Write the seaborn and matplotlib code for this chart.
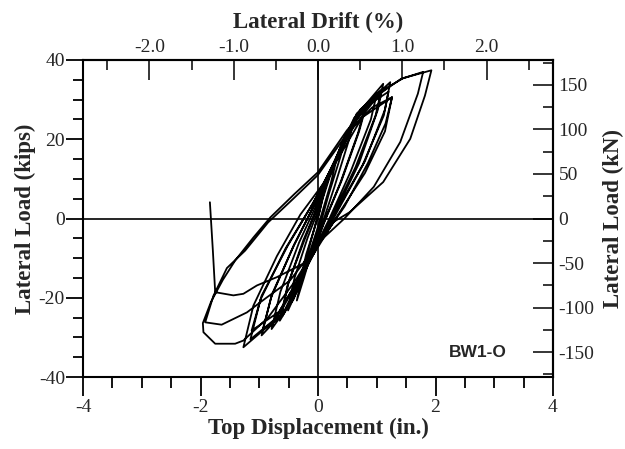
import matplotlib
matplotlib.use("Agg")
import matplotlib.pyplot as plt
from matplotlib.ticker import MultipleLocator, FormatStrFormatter, FixedLocator
import pandas as pd
import seaborn as sns

# Top displacement (in.) and lateral load (kips), in loading order.
disp_in = [
    0.00, 0.08, 0.20, 0.30, 0.22, 0.08, -0.02, -0.14, -0.28, -0.20, -0.06, 0.02,
    0.12, 0.30, 0.48, 0.38, 0.18, 0.04, -0.10, -0.24, -0.36, -0.26, -0.10, 0.02,
    0.14, 0.38, 0.62, 0.52, 0.28, 0.08, -0.10, -0.32, -0.51, -0.40, -0.18, 0.00,
    0.16, 0.50, 0.83, 0.70, 0.40, 0.12, -0.12, -0.40, -0.65, -0.52, -0.25, -0.02,
    0.16, 0.52, 0.80, 0.68, 0.38, 0.10, -0.14, -0.42, -0.62, -0.50, -0.22, -0.02,
    0.18, 0.58, 1.00, 0.90, 0.56, 0.18, -0.14, -0.48, -0.79, -0.64, -0.32, -0.04,
    0.20, 0.65, 1.11, 1.02, 0.70, 0.26, -0.16, -0.58, -0.96, -0.80, -0.42, -0.06,
    0.20, 0.66, 1.08, 0.98, 0.64, 0.20, -0.18, -0.60, -0.94, -0.78, -0.40, -0.06,
    0.22, 0.72, 1.23, 1.14, 0.80, 0.30, -0.18, -0.66, -1.13, -0.96, -0.52, -0.08,
    0.22, 0.74, 1.20, 1.12, 0.76, 0.26, -0.20, -0.70, -1.15, -0.98, -0.55, -0.10,
    0.24, 0.75, 1.26, 1.14, 0.80, 0.30, -0.20, -0.76, -1.27, -1.10, -0.70, -0.30,
    0.10, 0.60, 1.05, 1.42, 1.93, 1.82, 1.57, 1.11, 0.54, 0.26, 0.02, -0.40,
    -0.85, -1.27, -1.41, -1.75, -1.95, -1.96, -1.82, -1.62, -1.41, -1.10, -0.81,
    -0.40, 0.00, 0.49, 0.88, 1.17, 1.45, 1.79, 1.70, 1.40, 0.95, 0.45, 0.05,
    -0.48, -0.87, -1.21, -1.64, -1.92, -1.78, -1.55, -1.24, -0.85, -0.42, 0.00,
    0.50, 0.92, 1.26, 1.15, 0.85, 0.45, 0.10, -0.25, -0.70, -1.04, -1.27, -1.44,
    -1.75, -1.79, -1.84,
]
load_kips = [
    0.0, 5.0, 10.5, 14.0, 9.0, 2.0, -3.0, -8.5, -14.0, -9.0, -2.5, 1.5,
    8.0, 15.0, 21.5, 15.5, 6.0, -1.5, -8.0, -15.0, -20.7, -13.5, -4.5, 2.0,
    8.5, 18.0, 25.5, 19.5, 8.0, -1.0, -8.5, -17.0, -23.2, -15.0, -5.0, 2.0,
    9.5, 21.5, 29.0, 22.0, 9.5, -0.5, -9.5, -19.5, -25.8, -17.0, -5.5, 2.5,
    10.0, 22.0, 28.0, 21.5, 9.0, -1.0, -10.5, -20.5, -24.5, -16.0, -5.0, 2.5,
    10.5, 23.5, 31.5, 25.0, 12.0, -0.5, -10.0, -21.5, -27.9, -18.5, -6.0, 3.0,
    11.5, 26.0, 34.0, 27.5, 14.0, 0.5, -11.0, -23.5, -29.5, -20.0, -7.0, 3.5,
    12.0, 26.5, 32.5, 26.0, 13.0, -0.5, -12.0, -24.5, -28.0, -19.0, -6.5, 3.5,
    12.0, 27.5, 34.4, 27.5, 14.5, 1.0, -11.5, -23.5, -28.3, -19.5, -7.0, 4.0,
    12.5, 27.5, 32.0, 26.0, 13.5, 0.5, -12.5, -25.0, -30.5, -20.5, -7.5, 3.5,
    12.5, 25.5, 30.6, 22.0, 11.5, 0.0, -12.0, -26.0, -32.5, -22.0, -9.5, 1.0,
    9.0, 23.0, 31.5, 35.3, 37.4, 31.0, 20.1, 9.2, 1.6, -0.9, -6.0, -16.0,
    -25.0, -30.8, -31.6, -31.6, -28.7, -26.4, -21.0, -15.5, -10.6, -4.8, 0.3,
    6.2, 11.7, 22.2, 29.0, 33.0, 35.4, 37.0, 31.5, 19.3, 8.0, 0.0, -5.5,
    -15.7, -19.9, -23.7, -26.8, -26.2, -19.5, -12.5, -8.1, -1.0, 5.0, 11.0,
    21.5, 28.0, 30.6, 24.0, 14.0, 3.0, -4.5, -11.4, -14.8, -16.9, -19.0, -19.4,
    -18.6, -8.0, 4.1,
]

x_ticks = [-4, -2, 0, 2, 4]
y_ticks = [-40, -20, 0, 20, 40]
drift_ticks = [-2.0, -1.0, 0.0, 1.0, 2.0]
kn_ticks = [-150, -100, -50, 0, 50, 100, 150]
specimen = "BW1-O"

WALL_HEIGHT_IN = 143.5   # in. per 100 % drift
KIP_TO_KN = 4.448

sns.set_style("ticks")
plt.rcParams["font.family"] = ["Liberation Serif", "DejaVu Serif"]
plt.rcParams["axes.unicode_minus"] = False
plt.rcParams["axes.linewidth"] = 1.5

df = pd.DataFrame({"disp": disp_in, "load": load_kips})

fig = plt.figure(figsize=(6.25, 4.49), dpi=100)
ax = fig.add_axes([83 / 625, 1 - 377 / 449, 470 / 625, 317 / 449])

ax.axhline(0, color="black", lw=1.2, zorder=1)
ax.axvline(0, color="black", lw=1.2, zorder=1)
sns.lineplot(data=df, x="disp", y="load", sort=False, estimator=None,
             color="black", lw=1.3, ax=ax, zorder=2)

LABEL_FS = 16.5
TICK_FS = 14

ax.set_xlim(-4, 4)
ax.set_ylim(-40, 40)
ax.xaxis.set_major_locator(FixedLocator(x_ticks))
ax.xaxis.set_minor_locator(MultipleLocator(0.5))
ax.yaxis.set_major_locator(FixedLocator(y_ticks))
ax.yaxis.set_minor_locator(MultipleLocator(5))
ax.tick_params(which="both", direction="out", top=False, right=False,
               width=1.3, labelsize=TICK_FS, color="black")
ax.tick_params(axis="x", which="major", length=14, pad=2)
ax.tick_params(axis="x", which="minor", length=8)
ax.tick_params(axis="y", which="major", length=12, pad=1)
ax.tick_params(axis="y", which="minor", length=7)
for s in ax.spines.values():
    s.set_color("black")

ax.set_xlabel("Top Displacement (in.)", fontsize=LABEL_FS, fontweight="bold", labelpad=1)
ax.set_ylabel("Lateral Load (kips)", fontsize=LABEL_FS, fontweight="bold", labelpad=2)

# Drift ratio on top, kN on the right
top = ax.secondary_xaxis("top", functions=(lambda d: d / WALL_HEIGHT_IN * 100,
                                           lambda p: p * WALL_HEIGHT_IN / 100))
top.xaxis.set_major_locator(FixedLocator(drift_ticks))
top.xaxis.set_minor_locator(MultipleLocator(0.5))
top.xaxis.set_major_formatter(FormatStrFormatter("%.1f"))
top.tick_params(which="both", direction="in", width=1.3, labelsize=TICK_FS)
top.tick_params(which="major", length=14.5, pad=3)
top.tick_params(which="minor", length=7.5)
top.set_xlabel("Lateral Drift (%)", fontsize=LABEL_FS, fontweight="bold", labelpad=8)

right = ax.secondary_yaxis("right", functions=(lambda k: k * KIP_TO_KN,
                                               lambda n: n / KIP_TO_KN))
right.yaxis.set_major_locator(FixedLocator(kn_ticks))
right.yaxis.set_minor_locator(MultipleLocator(25))
right.tick_params(which="both", direction="in", width=1.3, labelsize=TICK_FS)
right.tick_params(which="major", length=14.5, pad=4)
right.tick_params(which="minor", length=7.5)
right.set_ylabel("Lateral Load (kN)", fontsize=LABEL_FS, fontweight="bold", labelpad=6)

ax.text(2.72, -33.8, specimen, ha="center", va="center", fontsize=12.5,
        fontweight="bold", family=["Liberation Sans", "DejaVu Sans"])

fig.savefig("out.png", dpi=100)
